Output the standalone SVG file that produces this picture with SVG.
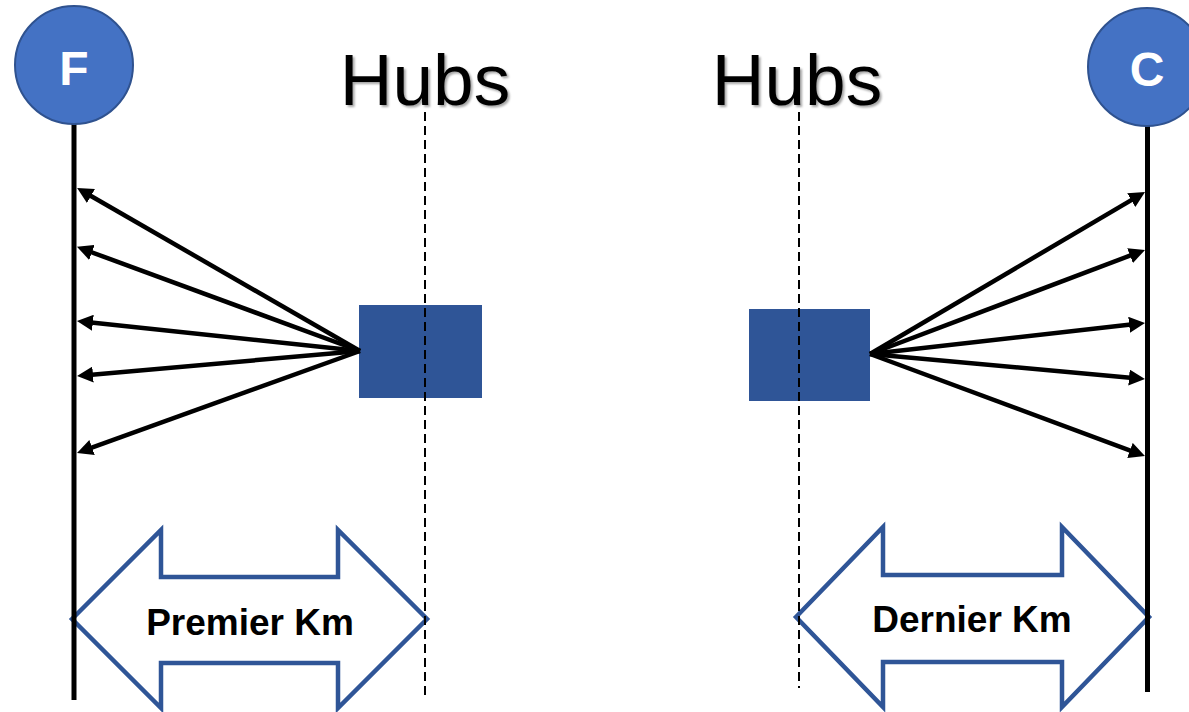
<svg xmlns="http://www.w3.org/2000/svg" width="1189" height="712" viewBox="0 0 1189 712">
<style>
.circ{fill:#4472C4;stroke:#2F528F;stroke-width:2}
.letter{font-family:"Liberation Sans",Arial,sans-serif;font-weight:bold;font-size:48px;fill:#fff;text-anchor:middle}
.hub{fill:#2F5597}
.hubs{font-family:"Liberation Sans",Arial,sans-serif;font-size:73px;fill:#000;text-anchor:middle;filter:url(#sh)}
.dbl{fill:#fff;stroke:#2F5597;stroke-width:4.5;stroke-linejoin:miter}
.lbl{font-family:"Liberation Sans",Arial,sans-serif;font-weight:bold;font-size:37px;fill:#000;text-anchor:middle}
.axis{stroke:#000;stroke-width:5}
.dash{stroke:#000;stroke-width:2;stroke-dasharray:9,5}
.fan{stroke:#000;stroke-width:4.5;fill:none;marker-end:url(#ah)}
</style>
<defs>
<marker id="ah" markerUnits="userSpaceOnUse" markerWidth="18" markerHeight="16" refX="4" refY="8" orient="auto">
<path d="M0,0 L16,8 L0,16 z" fill="#000"/>
</marker>
<filter id="sh" x="-10%" y="-10%" width="130%" height="130%">
<feDropShadow dx="2" dy="2" stdDeviation="1" flood-color="#000" flood-opacity="0.35"/>
</filter>
</defs>
<rect width="1189" height="712" fill="#fff"/>

<g id="hub-left"><rect class="hub" x="359" y="305" width="123" height="93"/></g>
<g id="hub-right"><rect class="hub" x="749" y="309" width="121" height="92"/></g>

<g id="premier-km">
<polygon class="dbl" points="72,619 161,530 161,577 338,577 338,530 427,619 338,708 338,663 161,663 161,708"/>
<text class="lbl" x="250" y="635">Premier Km</text>
</g>
<g id="dernier-km">
<polygon class="dbl" points="796,617 883,527 883,575 1062,575 1062,527 1149,617 1062,707 1062,662 883,662 883,707"/>
<text class="lbl" x="972" y="632">Dernier Km</text>
</g>

<g id="connectors">
<line class="axis" x1="74" y1="124" x2="74" y2="700"/>
<line class="axis" x1="1147.5" y1="126" x2="1147.5" y2="692"/>
<line class="dash" x1="425" y1="112" x2="425" y2="696"/>
<line class="dash" x1="799" y1="112" x2="799" y2="688"/>
<path class="fan" d="M360,351 L87.5,194"/>
<path class="fan" d="M360,351 L88.2,251"/>
<path class="fan" d="M360,351 L88.9,322.3"/>
<path class="fan" d="M360,351 L89,374.9"/>
<path class="fan" d="M360,351 L88.3,448.9"/>
<path class="fan" d="M870,354 L1134.7,198.1"/>
<path class="fan" d="M870,354 L1133.8,254.2"/>
<path class="fan" d="M870,354 L1133.1,324.3"/>
<path class="fan" d="M870,354 L1133,377.9"/>
<path class="fan" d="M870,354 L1133.7,451.8"/>
</g>

<g id="node-F">
<circle class="circ" cx="74" cy="65" r="59"/>
<text class="letter" x="74" y="85">F</text>
</g>
<g id="node-C">
<circle class="circ" cx="1147" cy="67" r="59"/>
<text class="letter" x="1147" y="86">C</text>
</g>

<g id="hubs-left-label"><text class="hubs" x="425" y="105">Hubs</text></g>
<g id="hubs-right-label"><text class="hubs" x="797" y="105">Hubs</text></g>
</svg>
